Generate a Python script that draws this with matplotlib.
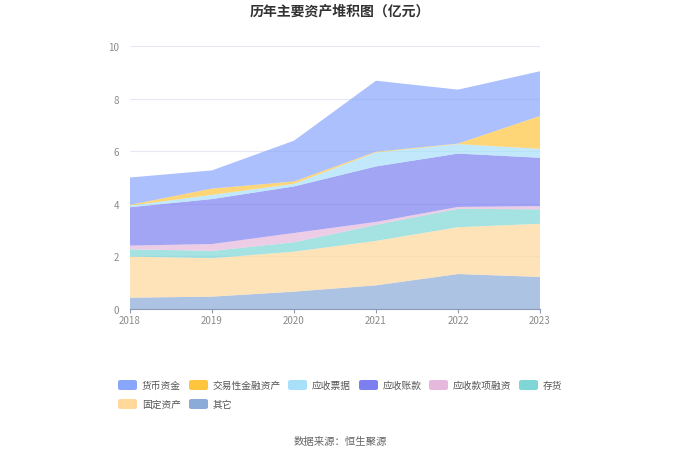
import numpy as np
import matplotlib
matplotlib.use("Agg")
from matplotlib import pyplot as plt
from matplotlib.patches import FancyBboxPatch

plt.rcParams['font.family'] = ['Noto Sans CJK SC', 'DejaVu Sans']

# Years and series values (亿元), bottom to top of the stack.
years = [2018, 2019, 2020, 2021, 2022, 2023]
qita = [0.43, 0.47, 0.66, 0.90, 1.33, 1.22]          # 其它
guding = [1.56, 1.46, 1.52, 1.69, 1.78, 2.02]        # 固定资产
cunhuo = [0.28, 0.28, 0.36, 0.61, 0.70, 0.55]        # 存货
rongzi = [0.14, 0.26, 0.35, 0.11, 0.07, 0.12]        # 应收款项融资
zhangkuan = [1.46, 1.71, 1.77, 2.11, 2.03, 1.84]     # 应收账款
piaoju = [0.06, 0.16, 0.10, 0.53, 0.36, 0.34]        # 应收票据
jiaoyi = [0.03, 0.24, 0.09, 0.03, 0.02, 1.25]        # 交易性金融资产
huobi = [1.04, 0.69, 1.55, 2.70, 2.05, 1.70]         # 货币资金

# Legend order (as shown in the reference).
names = ['货币资金', '交易性金融资产', '应收票据', '应收账款', '应收款项融资', '存货', '固定资产', '其它']
colors = ['#88a6fb', '#ffc53d', '#a8e0fa', '#7b7ff0', '#e6b8dc', '#7fd6d6', '#ffd89a', '#8aaad8']

series = [huobi, jiaoyi, piaoju, zhangkuan, rongzi, cunhuo, guding, qita]

fig = plt.figure(figsize=(6.8, 4.6), dpi=100)
ax = fig.add_axes([130/680, 1-310/460, 410/680, 263/460])

# Stack from bottom (其它) to top (货币资金).
stack_vals = [np.array(s) for s in series[::-1]]
stack_cols = colors[::-1]
ax.stackplot(years, *stack_vals, colors=stack_cols, alpha=0.7, linewidth=0)

ax.set_xlim(2018, 2023)
ax.set_ylim(0, 10)
ax.set_yticks([0, 2, 4, 6, 8, 10])
ax.set_xticks(years)
ax.grid(axis='y', color='#e6e9f2', linewidth=0.8)
ax.set_axisbelow(True)
for s in ['top', 'right', 'left']:
    ax.spines[s].set_visible(False)
ax.spines['bottom'].set_color('#8c9bb5')
ax.tick_params(axis='y', length=0, labelsize=7, colors='#8a8a8a', pad=8)
ax.tick_params(axis='x', length=3, labelsize=7, colors='#8a8a8a', pad=1)
ax.tick_params(axis='x', color='#8c9bb5')

fig.text(0.5, 1-12/460, '历年主要资产堆积图（亿元）', ha='center', va='center',
         fontsize=10, fontweight='bold', color='#333333')

# Legend drawn by hand to match the two-row layout.
leg_x = [118, 189, 288, 359, 429, 519, 118, 189]
leg_y = [386, 386, 386, 386, 386, 386, 405, 405]
for name, col, lx, ly in zip(names, colors, leg_x, leg_y):
    fig.patches.append(FancyBboxPatch((lx/680, 1-(ly+5)/460), 19/680, 10/460,
                                      boxstyle='round,pad=0,rounding_size=0.004',
                                      transform=fig.transFigure, facecolor=col,
                                      edgecolor='none'))
    fig.text((lx+24)/680, 1-ly/460, name, ha='left', va='center',
             fontsize=7, color='#555555')

fig.text(0.5, 1-442/460, '数据来源：恒生聚源', ha='center', va='center',
         fontsize=7.5, color='#666666')

fig.savefig('out.png', dpi=100)
